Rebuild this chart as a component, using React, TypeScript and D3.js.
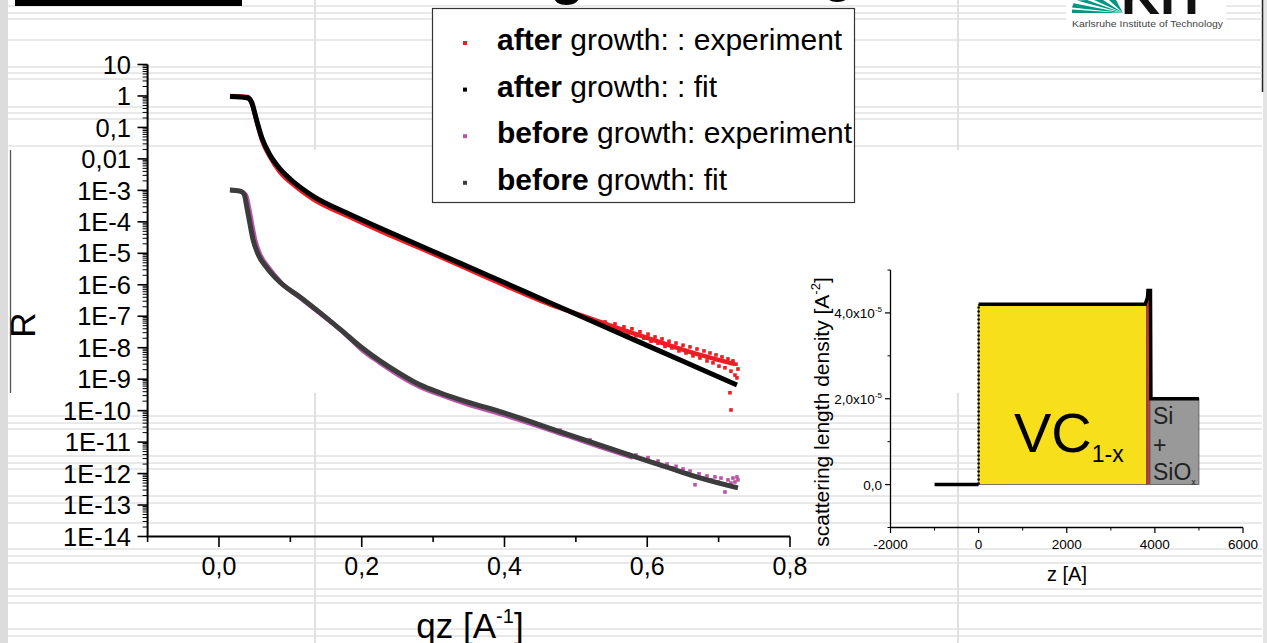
import React from "react";
import * as d3 from "d3";

const FONT = "'Liberation Sans', Arial, Helvetica, sans-serif";

// ---------------- main chart: reflectivity ----------------
const yTickExponents = [1, 0, -1, -2, -3, -4, -5, -6, -7, -8, -9, -10, -11, -12, -13, -14];
const yTickLabels = ["10", "1", "0,1", "0,01", "1E-3", "1E-4", "1E-5", "1E-6", "1E-7", "1E-8", "1E-9", "1E-10", "1E-11", "1E-12", "1E-13", "1E-14"];
const xMajorTicks = [0, 0.2, 0.4, 0.6, 0.8];
const xTickLabels = ["0,0", "0,2", "0,4", "0,6", "0,8"];
const xMinorTicks = [-0.1, 0.1, 0.3, 0.5, 0.7];

// after growth: fit
const afterFitQ = [0.0154, 0.0294, 0.0406, 0.0462, 0.0504, 0.0546, 0.0602, 0.0715, 0.0855, 0.1065, 0.1317, 0.1793, 0.2256, 0.2956, 0.3797, 0.4637, 0.5576, 0.6179, 0.6739, 0.7257];
const afterFitR = [0.96, 0.93, 0.86, 0.6, 0.27, 0.12, 0.046, 0.0133, 4.8e-3, 1.7e-3, 6.6e-4, 1.9e-4, 6.4e-5, 1.28e-5, 1.86e-6, 2.69e-7, 3.1e-8, 7.8e-9, 2.14e-9, 6.5e-10];

// after growth: experiment (main trace)
const afterExpQ = [0.0154, 0.0406, 0.0462, 0.0546, 0.0602, 0.0715, 0.0855, 0.1065, 0.1317, 0.1793, 0.2256, 0.2956, 0.3797, 0.4637, 0.5058, 0.5576, 0.6179, 0.6739, 0.7229];
const afterExpR = [1.0, 0.93, 0.56, 0.11, 0.04, 0.0115, 3.8e-3, 1.38e-3, 5.3e-4, 1.55e-4, 5.1e-5, 1.07e-5, 1.53e-6, 2.37e-7, 1.1e-7, 4.3e-8, 1.5e-8, 5.9e-9, 3.0e-9];
// after growth: experiment (scattered high-q points)
const afterNoiseQ = [0.5408, 0.5478, 0.5548, 0.5618, 0.5674, 0.573, 0.5786, 0.5842, 0.5898, 0.5954, 0.6011, 0.6053, 0.6109, 0.6151, 0.6207, 0.6249, 0.6305, 0.6347, 0.6403, 0.6445, 0.6501, 0.6543, 0.6599, 0.6641, 0.6697, 0.6739, 0.6795, 0.6837, 0.6879, 0.6921, 0.6963, 0.7005, 0.7047, 0.7089, 0.7131, 0.7173, 0.7201, 0.7229, 0.7243, 0.7271, 0.7257, 0.7159, 0.7173];
const afterNoiseR = [6.6e-8, 4.9e-8, 5.7e-8, 3.7e-8, 4.6e-8, 2.9e-8, 4.0e-8, 2.4e-8, 3.2e-8, 2.0e-8, 2.7e-8, 1.6e-8, 2.2e-8, 1.4e-8, 1.9e-8, 1.1e-8, 1.6e-8, 9.8e-9, 1.4e-8, 7.9e-9, 1.2e-8, 6.8e-9, 1.06e-8, 5.5e-9, 9.1e-9, 4.7e-9, 7.9e-9, 3.8e-9, 6.8e-9, 3.3e-9, 5.9e-9, 2.6e-9, 5.1e-9, 2.3e-9, 4.4e-9, 1.8e-9, 3.8e-9, 1.35e-9, 3.0e-9, 2.1e-9, 1.1e-9, 3.7e-10, 1.05e-10];

// before growth: fit
const beforeFitQ = [0.0154, 0.0294, 0.035, 0.0392, 0.0434, 0.0476, 0.0546, 0.0673, 0.0855, 0.1135, 0.1415, 0.1695, 0.2004, 0.2256, 0.2536, 0.2816, 0.3096, 0.3475, 0.3937, 0.4876, 0.58, 0.6277, 0.6739, 0.7271];
const beforeFitR = [1.03e-3, 9.5e-4, 7.7e-4, 2.8e-4, 8.6e-5, 2.8e-5, 9.5e-6, 3.4e-6, 1.2e-6, 4.1e-7, 1.3e-7, 3.9e-8, 9.9e-9, 3.8e-9, 1.5e-9, 6.6e-10, 3.7e-10, 1.9e-10, 9.3e-11, 1.8e-11, 3.6e-12, 1.6e-12, 7.3e-13, 3.5e-13];

// before growth: experiment (main trace)
const beforeExpQ = [0.0154, 0.0294, 0.0378, 0.042, 0.0462, 0.0504, 0.0574, 0.0701, 0.0883, 0.1163, 0.1443, 0.1723, 0.2004, 0.2256, 0.2536, 0.2816, 0.3096, 0.3475, 0.3937, 0.4876, 0.5338, 0.58];
const beforeExpR = [1.03e-3, 9.5e-4, 7.1e-4, 2.8e-4, 8.6e-5, 2.8e-5, 9.5e-6, 3.4e-6, 1.1e-6, 3.5e-7, 1.1e-7, 3.4e-8, 8.5e-9, 3.3e-9, 1.26e-9, 5.7e-10, 3.2e-10, 1.6e-10, 7.9e-11, 1.6e-11, 7.1e-12, 3.2e-12];
// before growth: experiment (scattered high-q points)
const beforeNoiseQ = [0.4778, 0.4988, 0.5198, 0.5338, 0.5478, 0.5618, 0.573, 0.5842, 0.5926, 0.6011, 0.6081, 0.6151, 0.6207, 0.6277, 0.6347, 0.6403, 0.6459, 0.6501, 0.6543, 0.6599, 0.6655, 0.6669, 0.6725, 0.6781, 0.6837, 0.6893, 0.6949, 0.6991, 0.7033, 0.7075, 0.7089, 0.7131, 0.7173, 0.7201, 0.7229, 0.7257, 0.7271];
const beforeNoiseR = [2.4e-11, 1.45e-11, 1.17e-11, 7.0e-12, 6.5e-12, 4.9e-12, 4.2e-12, 3.9e-12, 2.9e-12, 3.2e-12, 2.3e-12, 2.5e-12, 1.7e-12, 2.0e-12, 1.5e-12, 1.7e-12, 1.2e-12, 1.4e-12, 1.05e-12, 1.2e-12, 8.4e-13, 4.4e-13, 9.8e-13, 7.2e-13, 8.4e-13, 6.3e-13, 7.8e-13, 5.4e-13, 7.2e-13, 4.7e-13, 2.6e-13, 6.3e-13, 5.0e-13, 7.2e-13, 5.4e-13, 7.8e-13, 6.3e-13];

const legendBold = ["after", "after", "before", "before"];
const legendRest = [" growth: : experiment", " growth: : fit", " growth: experiment", " growth:  fit"];
const legendColors = ["#ee1c24", "#000000", "#b855a8", "#3c3c3c"];

// ---------------- inset: SLD profile ----------------
const zMajorTicks = [-2000, 0, 2000, 4000, 6000];
const zTickLabels = ["-2000", "0", "2000", "4000", "6000"];
const zMinorTicks = [-1000, 1000, 3000, 5000];
const rhoMajorTicks = [0, 2e-5, 4e-5];
const rhoTickMant = ["0,0", "2,0x10", "4,0x10"];
const rhoTickExp = ["", "-5", "-5"];
const rhoMinorTicks = [-1e-5, 1e-5, 3e-5, 5e-5];

const sldZ = [-1000, 0, 0, 3780, 3830, 3850, 3900, 3910, 5000];
const sldRho = [0, 0, 4.2e-5, 4.2e-5, 4.35e-5, 4.52e-5, 4.52e-5, 2.0e-5, 2.0e-5];

const layerZStart = [0, 3810, 3890];
const layerZEnd = [3810, 3880, 5000];
const layerRho = [4.2e-5, 4.55e-5, 2.0e-5];
const layerFill = ["#f7df1c", "#d9301e", "#999999"];

// background decoration of the slide (light spreadsheet-like rules)
const bgTopRules = [6, 13, 19, 40, 67, 73, 79, 107, 113, 119, 146];
const bgBottomRules = [416, 423, 429, 456, 463, 469, 496, 503, 523, 549, 556, 563, 589, 596, 603, 629, 636];
const bgVerticalRules = [315, 958];

export default function App() {
  const W = 1267;
  const H = 643;

  const x = d3.scaleLinear().domain([-0.1, 0.8]).range([147.6, 790]);
  const y = d3.scaleLog().domain([10, 1e-14]).range([64.5, 536.5]);
  const curve = d3
    .line<[number, number]>()
    .x((d) => x(d[0]))
    .y((d) => y(d[1]))
    .curve(d3.curveMonotoneX);

  const zip = (a: number[], b: number[]) => a.map((v, i) => [v, b[i]] as [number, number]);

  const yMinor: number[] = [];
  for (let e = -14; e <= 0; e++) {
    for (let m = 2; m <= 9; m++) yMinor.push(m * Math.pow(10, e));
  }

  const zx = d3.scaleLinear().domain([-2000, 6000]).range([890.5, 1243]);
  const ry = d3.scaleLinear().domain([-1e-5, 5e-5]).range([527.5, 270]);
  const sldLine = d3
    .line<[number, number]>()
    .x((d) => zx(d[0]))
    .y((d) => ry(d[1]));
  const sld = zip(sldZ, sldRho);

  const axisCol = "#000";

  return (
    <svg
      width={W}
      height={H}
      viewBox={`0 0 ${W} ${H}`}
      style={{ position: "absolute", left: 0, top: 0, background: "#fff", fontFamily: FONT }}
    >
      {/* slide background */}
      <rect x={0} y={0} width={W} height={H} fill="#fff" />
      <rect x={0} y={0} width={8} height={H} fill="#dcdcdc" />
      <rect x={1263} y={0} width={4} height={H} fill="#e4e4e4" />
      <line x1={1262.5} y1={0} x2={1262.5} y2={92} stroke="#222" strokeWidth={1.5} />
      {bgTopRules.map((v) => (
        <line key={"t" + v} x1={8} x2={1262} y1={v} y2={v} stroke="#e2e2e2" strokeWidth={1.6} />
      ))}
      {bgBottomRules.map((v) => (
        <line key={"b" + v} x1={8} x2={1262} y1={v} y2={v} stroke="#e2e2e2" strokeWidth={1.6} />
      ))}
      {bgVerticalRules.map((v) => (
        <g key={"v" + v}>
          <line x1={v} x2={v} y1={0} y2={150} stroke="#e0e0e0" strokeWidth={2} />
          <line x1={v} x2={v} y1={393} y2={H} stroke="#e0e0e0" strokeWidth={2} />
        </g>
      ))}
      <line x1={10.5} x2={10.5} y1={150} y2={393} stroke="#555" strokeWidth={1.3} />

      {/* cut-off slide title */}
      <rect x={15} y={0} width={227} height={6} fill="#000" />
      <text x={127} y={-5} fontSize={50} fontWeight="bold" fill="#000">p</text>
      <text x={550} y={-7} fontSize={56} fontWeight="bold" fill="#000">g</text>
      <text x={822} y={-9} fontSize={52} fontWeight="bold" fill="#000">g</text>

      {/* KIT logo */}
      <rect x={1066} y={0} width={160} height={32} fill="#fff" />
      <g fill="#009682">
        <polygon points="1123,13 1072,13 1072,9.6" />
        <polygon points="1123,13 1072,7.4 1073.5,3.2" />
        <polygon points="1123,13 1077,0.5 1087,0" />
        <polygon points="1123,13 1094,0 1103,0" />
        <polygon points="1123,13 1109,0 1116,0" />
      </g>
      <text x={1121} y={14} fontSize={54} fontWeight="bold" fill="#111">KIT</text>
      <text x={1072} y={27} fontSize={9.3} fill="#444" textLength={151} lengthAdjust="spacingAndGlyphs">
        Karlsruhe Institute of Technology
      </text>

      {/* ---------- main chart axes ---------- */}
      <line x1={147.6} x2={147.6} y1={y(10)} y2={y(1e-14)} stroke={axisCol} strokeWidth={2} />
      <line x1={146.6} x2={790} y1={y(1e-14)} y2={y(1e-14)} stroke={axisCol} strokeWidth={2} />
      {yTickExponents.map((e, i) => (
        <g key={"yt" + e}>
          <line x1={137.5} x2={147.6} y1={y(Math.pow(10, e))} y2={y(Math.pow(10, e))} stroke={axisCol} strokeWidth={1.6} />
          <text x={131} y={y(Math.pow(10, e))} dy="0.36em" textAnchor="end" fontSize={25.5} fill="#000">
            {yTickLabels[i]}
          </text>
        </g>
      ))}
      {yMinor.map((v, i) => (
        <line key={"ym" + i} x1={142.6} x2={147.6} y1={y(v)} y2={y(v)} stroke={axisCol} strokeWidth={1} />
      ))}
      {xMajorTicks.map((v, i) => (
        <g key={"xt" + i}>
          <line x1={x(v)} x2={x(v)} y1={536.5} y2={547} stroke={axisCol} strokeWidth={1.6} />
          <text x={x(v)} y={575} textAnchor="middle" fontSize={25} fill="#000">
            {xTickLabels[i]}
          </text>
        </g>
      ))}
      {xMinorTicks.map((v, i) => (
        <line key={"xm" + i} x1={x(v)} x2={x(v)} y1={536.5} y2={542} stroke={axisCol} strokeWidth={1.6} />
      ))}
      <text x={470} y={638} textAnchor="middle" fontSize={35} fill="#000">
        qz [A<tspan dy={-15} fontSize={20}>-1</tspan>
        <tspan dy={15} fontSize={35}>]</tspan>
      </text>
      <text transform="translate(35,325) rotate(-90)" textAnchor="middle" fontSize={35} fill="#000">
        R
      </text>

      {/* ---------- data ---------- */}
      <path d={curve(zip(afterExpQ, afterExpR)) || ""} fill="none" stroke="#ee1c24" strokeWidth={4.5} strokeLinejoin="round" />
      {afterNoiseQ.map((q, i) => (
        <rect key={"an" + i} x={x(q) - 1.8} y={y(afterNoiseR[i]) - 1.8} width={3.6} height={3.6} fill="#ee1c24" />
      ))}
      <path d={curve(zip(afterFitQ, afterFitR)) || ""} fill="none" stroke="#000" strokeWidth={5} strokeLinejoin="round" />

      <path d={curve(zip(beforeExpQ, beforeExpR)) || ""} fill="none" stroke="#b855a8" strokeWidth={4.5} strokeLinejoin="round" />
      {beforeNoiseQ.map((q, i) => (
        <rect key={"bn" + i} x={x(q) - 1.8} y={y(beforeNoiseR[i]) - 1.8} width={3.6} height={3.6} fill="#b855a8" />
      ))}
      <path d={curve(zip(beforeFitQ, beforeFitR)) || ""} fill="none" stroke="#3c3c3c" strokeWidth={5} strokeLinejoin="round" />

      {/* ---------- legend ---------- */}
      <rect x={432.5} y={8.5} width={422} height={194} fill="#fff" stroke="#333" strokeWidth={1.2} />
      {legendBold.map((b, i) => {
        const by = 50 + i * 46.6;
        return (
          <g key={"lg" + i}>
            <rect x={463} y={by - 9} width={4} height={4} fill={legendColors[i]} />
            <text x={497} y={by} fontSize={30} fill="#000">
              <tspan fontWeight="bold">{b}</tspan>
              <tspan>{legendRest[i]}</tspan>
            </text>
          </g>
        );
      })}

      {/* ---------- inset: SLD profile ---------- */}
      {layerZStart.map((z0, i) => (
        <rect
          key={"ly" + i}
          x={zx(z0)}
          y={ry(layerRho[i])}
          width={zx(layerZEnd[i]) - zx(z0)}
          height={ry(0) - ry(layerRho[i])}
          fill={layerFill[i]}
          stroke="#555"
          strokeWidth={0.8}
        />
      ))}
      <path d={sldLine(sld.slice(0, 2)) || ""} fill="none" stroke="#000" strokeWidth={3.5} />
      <path d={sldLine(sld.slice(1, 3)) || ""} fill="none" stroke="#000" strokeWidth={2.5} strokeDasharray="2 2" />
      <path d={sldLine(sld.slice(2)) || ""} fill="none" stroke="#000" strokeWidth={3.5} strokeLinejoin="miter" />

      <line x1={890.5} x2={890.5} y1={270} y2={527.5} stroke="#000" strokeWidth={1.3} />
      <line x1={890} x2={1243} y1={527.5} y2={527.5} stroke="#000" strokeWidth={1.3} />
      {zMajorTicks.map((v, i) => (
        <g key={"zt" + i}>
          <line x1={zx(v)} x2={zx(v)} y1={527.5} y2={533} stroke="#000" strokeWidth={1.2} />
          <text x={zx(v)} y={549} textAnchor="middle" fontSize={13.5} fill="#000">
            {zTickLabels[i]}
          </text>
        </g>
      ))}
      {zMinorTicks.map((v, i) => (
        <line key={"zm" + i} x1={zx(v)} x2={zx(v)} y1={527.5} y2={530.5} stroke="#000" strokeWidth={1} />
      ))}
      {rhoMajorTicks.map((v, i) => (
        <g key={"rt" + i}>
          <line x1={885} x2={890.5} y1={ry(v)} y2={ry(v)} stroke="#000" strokeWidth={1.2} />
          <text x={882} y={ry(v) + 5} textAnchor="end" fontSize={13.5} fill="#000">
            {rhoTickMant[i]}
            {rhoTickExp[i] ? (
              <tspan dy={-6} fontSize={8}>
                {rhoTickExp[i]}
              </tspan>
            ) : null}
          </text>
        </g>
      ))}
      {rhoMinorTicks.map((v, i) => (
        <line key={"rm" + i} x1={887.5} x2={890.5} y1={ry(v)} y2={ry(v)} stroke="#000" strokeWidth={1} />
      ))}
      <text transform="translate(829,412) rotate(-90)" textAnchor="middle" fontSize={21} fill="#000">
        scattering length density [A<tspan dy={-9} fontSize={13}>-2</tspan>
        <tspan dy={9} fontSize={21}>]</tspan>
      </text>
      <text x={1067} y={581} textAnchor="middle" fontSize={20} fill="#000">
        z [A]
      </text>

      <text x={1014} y={452} fontSize={56} fill="#000">
        VC<tspan dy={10} fontSize={23}>1-x</tspan>
      </text>
      <text x={1153} y={424} fontSize={23} fill="#222">Si</text>
      <text x={1153} y={453} fontSize={23} fill="#222">+</text>
      <text x={1153} y={480} fontSize={23} fill="#222">
        SiO<tspan dy={5} fontSize={9}>x</tspan>
      </text>
    </svg>
  );
}
